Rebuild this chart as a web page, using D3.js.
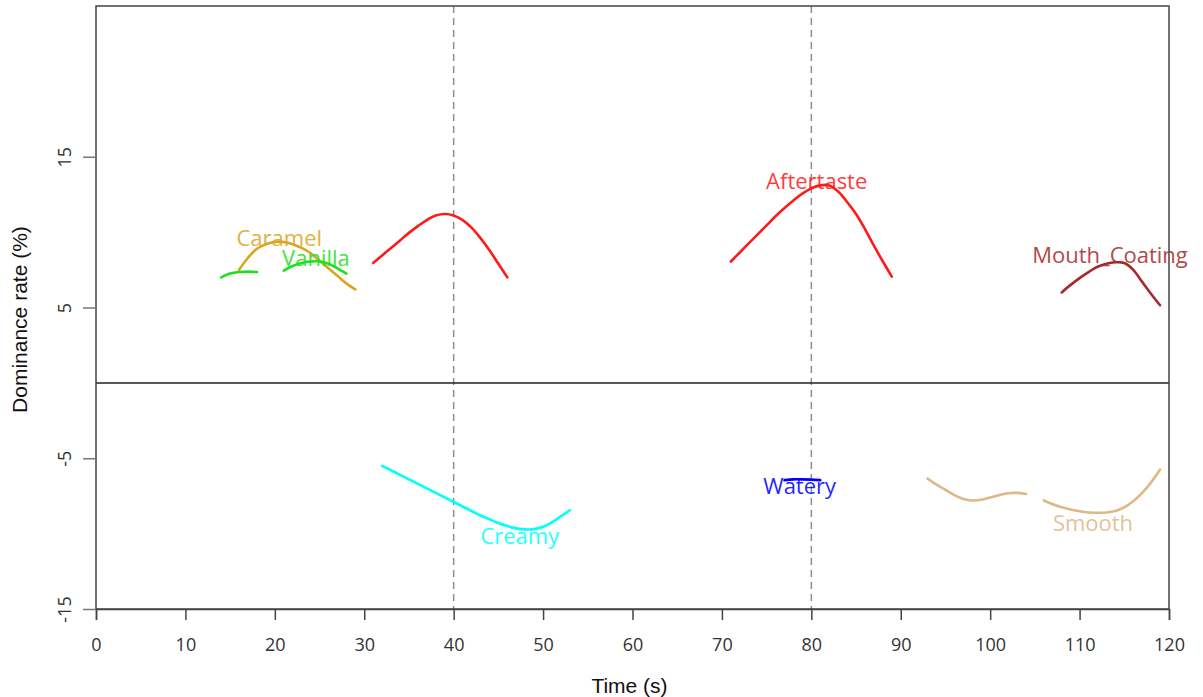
<!DOCTYPE html>
<html>
<head>
<meta charset="utf-8">
<script src="https://cdn.jsdelivr.net/npm/d3@7"></script>
<style>
  body { margin: 0; background: #fff; }
  svg { display: block; }
</style>
</head>
<body>
<svg id="chart"></svg>
<script>
// Time ticks and dominance ticks
const xTicks = [0, 10, 20, 30, 40, 50, 60, 70, 80, 90, 100, 110, 120];
const yTicks = [-15, -5, 5, 15];
const refTimes = [40, 80];

// Smoothed dominance curves (time in s, rate in %)
const caramel = [[16, 7.5], [17, 8.3], [18, 8.9], [19, 9.2], [20, 9.35], [21, 9.35], [22, 9.2], [23, 8.95],
  [24, 8.6], [25, 8.1], [26, 7.6], [27, 7.1], [28, 6.6], [29, 6.2]];
const vanillaA = [[14, 7.0], [15, 7.25], [16, 7.35], [17, 7.38], [18, 7.35]];
const vanillaB = [[21, 7.45], [22, 7.75], [23, 7.95], [24, 8.05], [25, 8.05], [26, 7.9], [27, 7.6], [28, 7.25]];
const aftertasteA = [[31, 7.95], [32, 8.45], [33, 8.95], [34, 9.45], [35, 9.95], [36, 10.4], [37, 10.8], [38, 11.1],
  [39, 11.2], [40, 11.1], [41, 10.8], [42, 10.3], [43, 9.6], [44, 8.8], [45, 7.9], [46, 7.0]];
const aftertasteB = [[71, 8.05], [72, 8.65], [73, 9.25], [74, 9.85], [75, 10.45], [76, 11.05], [77, 11.6], [78, 12.1],
  [79, 12.55], [80, 12.9], [81, 13.1], [82, 13.1], [83, 12.7], [84, 12.0], [85, 11.2], [86, 10.2], [87, 9.1],
  [88, 8.05], [89, 7.05]];
const mouthCoating = [[108, 6.0], [109, 6.5], [110, 6.95], [111, 7.35], [112, 7.7], [113, 7.9], [114, 8.0],
  [115, 7.95], [116, 7.5], [117, 6.7], [118, 5.9], [119, 5.15]];
const creamy = [[32, -5.5], [33, -5.8], [34, -6.1], [35, -6.4], [36, -6.7], [37, -7.0], [38, -7.3], [39, -7.6],
  [40, -7.9], [41, -8.2], [42, -8.5], [43, -8.8], [44, -9.05], [45, -9.3], [46, -9.5], [47, -9.65], [48, -9.72],
  [49, -9.7], [50, -9.55], [51, -9.25], [52, -8.85], [53, -8.45]];
const watery = [[77, -6.45], [78, -6.4], [79, -6.4], [80, -6.42], [81, -6.45]];
const smoothA = [[93, -6.35], [94, -6.75], [95, -7.1], [96, -7.45], [97, -7.7], [98, -7.8], [99, -7.75],
  [100, -7.6], [101, -7.45], [102, -7.32], [103, -7.3], [104, -7.37]];
const smoothB = [[106, -7.8], [107, -8.05], [108, -8.25], [109, -8.4], [110, -8.52], [111, -8.6], [112, -8.62],
  [113, -8.6], [114, -8.5], [115, -8.25], [116, -7.85], [117, -7.3], [118, -6.6], [119, -5.75]];

const curves = [
  { name: "Caramel", color: "#DAA520", pts: caramel },
  { name: "Vanilla", color: "#1EE01E", pts: vanillaA },
  { name: "Vanilla", color: "#1EE01E", pts: vanillaB },
  { name: "Aftertaste", color: "#FF1A1A", pts: aftertasteA },
  { name: "Aftertaste", color: "#FF1A1A", pts: aftertasteB },
  { name: "Mouth_Coating", color: "#A52A2A", pts: mouthCoating },
  { name: "Creamy", color: "#00FFFF", pts: creamy },
  { name: "Watery", color: "#0000FF", pts: watery },
  { name: "Smooth", color: "#DEB887", pts: smoothA },
  { name: "Smooth", color: "#DEB887", pts: smoothB },
];

// Label anchors (time, rate)
const labels = [
  { text: "Caramel", color: "#DAA520", t: 20.5, v: 9.7 },
  { text: "Vanilla", color: "#1EE01E", t: 24.6, v: 8.35 },
  { text: "Aftertaste", color: "#FF1A1A", t: 80.6, v: 13.45 },
  { text: "Mouth_Coating", color: "#A52A2A", t: 113.4, v: 8.55 },
  { text: "Creamy", color: "#00FFFF", t: 47.4, v: -10.1 },
  { text: "Watery", color: "#0000FF", t: 78.7, v: -6.75 },
  { text: "Smooth", color: "#DEB887", t: 111.5, v: -9.2 },
];

const dimensions = {
  width: 1203,
  height: 697,
  margin: { top: 6, bottom: 88, right: 34, left: 96 },
};

const svg = d3.select("#chart")
  .attr("width", dimensions.width)
  .attr("height", dimensions.height);

const xScale = d3.scaleLinear()
  .domain([0, 120])
  .range([dimensions.margin.left, dimensions.width - dimensions.margin.right]);

const yScale = d3.scaleLinear()
  .domain([-15, 25])
  .range([dimensions.height - dimensions.margin.bottom, dimensions.margin.top]);

const tickFont = "'Open Sans', sans-serif";
const plainFormat = d => String(d); // hyphen minus, like the original

// Reference dashed lines
svg.selectAll(".ref")
  .data(refTimes)
  .enter()
  .append("line")
  .attr("x1", d => xScale(d))
  .attr("x2", d => xScale(d))
  .attr("y1", yScale(25))
  .attr("y2", yScale(-15))
  .attr("stroke", "#8c8c8c")
  .attr("stroke-width", 1.5)
  .attr("stroke-dasharray", "7,5");

// Zero line
svg.append("line")
  .attr("x1", xScale(0))
  .attr("x2", xScale(120))
  .attr("y1", yScale(0))
  .attr("y2", yScale(0))
  .attr("stroke", "#222")
  .attr("stroke-width", 1.5);

// Frame
svg.append("rect")
  .attr("x", xScale(0))
  .attr("y", yScale(25))
  .attr("width", xScale(120) - xScale(0))
  .attr("height", yScale(-15) - yScale(25))
  .attr("fill", "none")
  .attr("stroke", "#444")
  .attr("stroke-width", 1.5);

// X axis
const xAxis = svg.append("g")
  .attr("transform", `translate(0,${yScale(-15)})`)
  .call(d3.axisBottom(xScale).tickValues(xTicks).tickFormat(plainFormat).tickSize(11).tickPadding(18));
xAxis.select(".domain").attr("stroke", "#444").attr("stroke-width", 1.5);
xAxis.selectAll(".tick line").attr("stroke", "#444").attr("stroke-width", 1.5);
xAxis.selectAll("text")
  .style("font-family", tickFont)
  .style("font-size", "18px")
  .attr("fill", "#333");

// Y axis
const yAxis = svg.append("g")
  .attr("transform", `translate(${xScale(0)},0)`)
  .call(d3.axisLeft(yScale).tickValues(yTicks).tickFormat(plainFormat).tickSize(13));
yAxis.select(".domain").remove();
yAxis.selectAll(".tick line").attr("stroke", "#777").attr("stroke-width", 1.5);
yAxis.selectAll("text")
  .attr("x", null)
  .attr("dy", null)
  .attr("transform", "translate(-32,0) rotate(-90)")
  .style("text-anchor", "middle")
  .attr("dominant-baseline", "central")
  .style("font-family", tickFont)
  .style("font-size", "18px")
  .attr("fill", "#333");

// Axis titles
svg.append("text")
  .attr("x", (xScale(0) + xScale(120)) / 2 - 3)
  .attr("y", 693)
  .style("text-anchor", "middle")
  .style("font-family", "'Liberation Sans', Arial, sans-serif")
  .style("font-size", "21px")
  .attr("fill", "#111")
  .text("Time (s)");

svg.append("text")
  .attr("transform", `translate(27,${yScale(4.2)}) rotate(-90)`)
  .style("text-anchor", "middle")
  .style("font-family", "'Liberation Sans', Arial, sans-serif")
  .style("font-size", "21px")
  .attr("fill", "#111")
  .text("Dominance rate (%)");

// Curves
const line = d3.line()
  .x(d => xScale(d[0]))
  .y(d => yScale(d[1]))
  .curve(d3.curveCatmullRom);

svg.selectAll(".curve")
  .data(curves)
  .enter()
  .append("path")
  .attr("d", d => line(d.pts))
  .attr("fill", "none")
  .attr("stroke", d => d.color)
  .attr("stroke-width", 2.6)
  .attr("stroke-linecap", "round");

// Labels
svg.selectAll(".lbl")
  .data(labels)
  .enter()
  .append("text")
  .attr("x", d => xScale(d.t))
  .attr("y", d => yScale(d.v))
  .attr("dominant-baseline", "central")
  .style("text-anchor", "middle")
  .style("font-family", "'Open Sans', sans-serif")
  .style("font-size", "22px")
  .attr("fill", d => d.color)
  .attr("opacity", 0.85)
  .text(d => d.text);
</script>
</body>
</html>
